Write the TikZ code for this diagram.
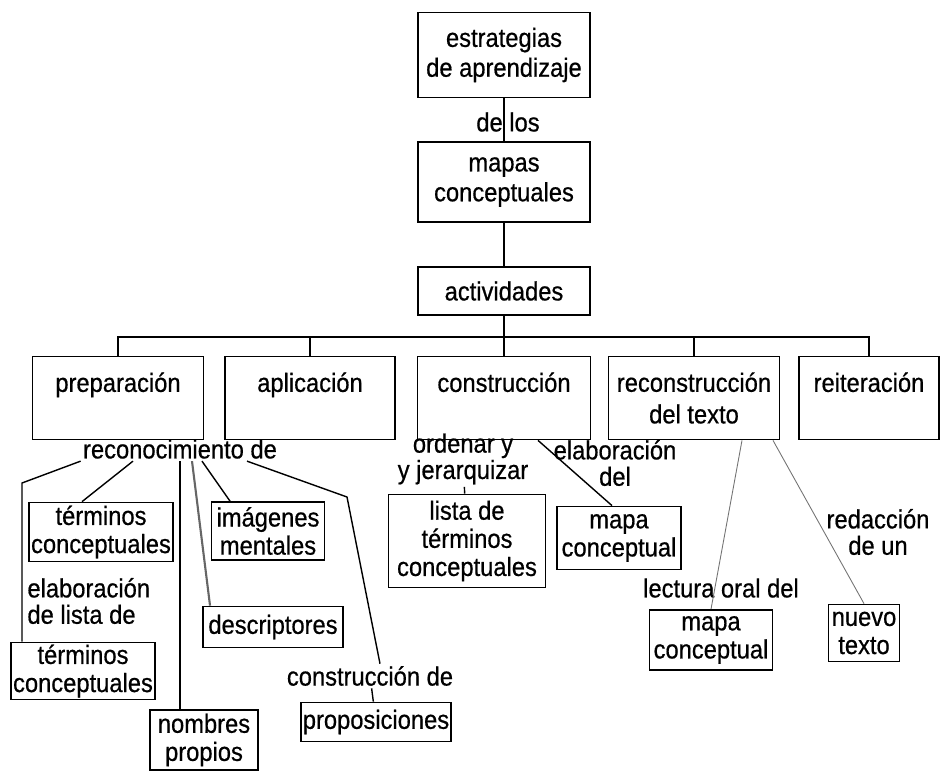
\documentclass[tikz,border=0pt]{standalone}
\usepackage{fontspec}
\setmainfont[FakeStretch=0.9,FakeBold=0.6]{Liberation Sans}
\usetikzlibrary{positioning}

\begin{document}
\begin{tikzpicture}[x=0.02cm,y=-0.02cm,line width=0.8pt,
  box/.style={draw,line width=1pt,align=center,inner sep=1pt,font=\fontsize{15}{16}\selectfont},
  top box/.style={box,minimum width=3.44cm,font=\fontsize{15}{17}\selectfont},
  row box/.style={box,minimum height=1.66cm,font=\fontsize{15}{18}\selectfont},
  link/.style={align=center,inner sep=1pt,font=\fontsize{15}{15}\selectfont},
  faint/.style={draw=black!55,line width=0.5pt}]
  \useasboundingbox (0,0) rectangle (945,777);
  \node[top box,minimum height=1.7cm] (1) at (504,55) {estrategias\\de aprendizaje};
  \node[link] (2) at (508,122) {de los};
  \node[top box,minimum height=1.6cm] (3) at (504,182) {mapas\\conceptuales};
  \node[top box,minimum height=0.96cm] (4) at (504,291) {actividades};
  \node[row box,minimum width=3.42cm] (5) at (118,398) {preparación\\~};
  \node[row box,minimum width=3.40cm] (6) at (310,398) {aplicación\\~};
  \node[row box,minimum width=3.46cm] (7) at (504,398) {construcción\\~};
  \node[row box,minimum width=3.42cm] (8) at (694,398) {reconstrucción\\del texto};
  \node[row box,minimum width=2.80cm] (9) at (869,398) {reiteración\\~};
  \node[link] (10) at (180,449) {reconocimiento de};
  \node[box,minimum width=2.88cm,minimum height=1.18cm] (11) at (101,532) {términos\\conceptuales};
  \node[box,minimum width=2.26cm,minimum height=1.16cm] (12) at (268,531) {imágenes\\mentales};
  \node[link,align=left,anchor=west] (13) at (25,601) {elaboración\\de lista de};
  \node[box,minimum width=2.84cm,minimum height=1.14cm] (14) at (83,671) {términos\\conceptuales};
  \node[box,minimum width=2.80cm,minimum height=0.82cm] (15) at (273,627) {descriptores};
  \node[box,minimum width=2.16cm,minimum height=1.2cm] (16) at (204,740) {nombres\\propios};
  \node[link] (17) at (370,676) {construcción de};
  \node[box,minimum width=2.56cm,minimum height=0.78cm] (18) at (376,722) {proposiciones};
  \node[link] (19) at (463,459) {ordenar y\\y jerarquizar};
  \node[box,minimum width=3.14cm,minimum height=1.86cm] (20) at (467,541) {lista de\\términos\\conceptuales};
  \node[link] (21) at (615,463) {elaboración\\del};
  \node[box,minimum width=2.48cm,minimum height=1.26cm] (22) at (619,538) {mapa\\conceptual};
  \node[link] (23) at (721,588) {lectura oral del};
  \node[box,minimum width=2.46cm,minimum height=1.2cm] (24) at (711,640) {mapa\\conceptual};
  \node[link] (25) at (878,532) {redacción\\de un};
  \node[box,minimum width=1.42cm,minimum height=1.14cm] (26) at (864,633) {nuevo\\texto};
  \coordinate (b) at (504,337);
  \coordinate (c1) at (22,483);
  \coordinate (c2) at (347,497);
  \path
    (1) edge (3)
    (3) edge (4)
    (4) edge (7)
    (17) edge (18)
    (19) edge (20);
  \draw (5.north) |- (b) -| (9.north);
  \draw (6.north) |- (b);
  \draw (8.north) |- (b);
  \draw (10.south west) -- (c1) -- (c1 |- 14.north);
  \draw ([xshift=-0.94cm]10.south) -- ([xshift=-0.38cm]11.north);
  \draw (10.south) -- (10.south |- 16.north);
  \draw[draw=black!60,line width=1.2pt] ([xshift=0.24cm]10.south) -- ([xshift=-1.26cm]15.north);
  \draw ([xshift=0.44cm]10.south) -- ([xshift=-0.76cm]12.north);
  \draw ([xshift=1.34cm]10.south) -- (c2) -- ([xshift=0.2cm]17.north);
  \draw ([xshift=0.68cm]7.south) -- ([xshift=-0.14cm]22.north);
  \draw[faint] ([xshift=0.96cm]8.south) -- (24.north);
  \draw[faint] ([xshift=1.58cm]8.south) -- (26.north);
\end{tikzpicture}
\end{document}
